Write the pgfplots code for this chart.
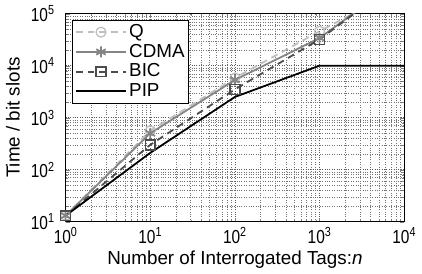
\documentclass[border=0pt]{standalone}
\usepackage{pgfplots}
\pgfplotsset{compat=1.18}
\usepackage{fontspec}
\setmainfont{Liberation Sans}
\newfontfamily\ticfont[FakeStretch=0.82]{Liberation Sans}
\definecolor{cQ}{gray}{0.75}
\definecolor{cC}{gray}{0.52}
\definecolor{cB}{gray}{0.30}
\begin{document}
\fontsize{18}{22}\selectfont
\begin{tikzpicture}
\begin{axis}[
  scale only axis, width=342pt, height=210pt,
  xmode=log, ymode=log,
  xmin=1, xmax=10000, ymin=10, ymax=100000,
  xtick={1,10,100,1000,10000},
  xticklabels={10\textsuperscript{0},10\textsuperscript{1},10\textsuperscript{2},10\textsuperscript{3},10\textsuperscript{4}},
  ytick={10,100,1000,10000,100000},
  yticklabels={10\textsuperscript{1},10\textsuperscript{2},10\textsuperscript{3},10\textsuperscript{4},10\textsuperscript{5}},
  tick label style={font=\ticfont\fontsize{19}{22}\selectfont},
  yticklabel style={xshift=-5pt},
  label style={font=\fontsize{19}{22}\selectfont},
  xlabel={Number of Interrogated Tags:\textit{n}},
  ylabel={Time / bit slots},
  xlabel style={yshift=5pt},
  ylabel style={yshift=-1pt},
  grid=both,
  major grid style={dotted, black!65},
  minor grid style={dotted, black!55},
  tick align=inside,
  major tick length=4pt, minor tick length=2pt,
  axis line style={line width=1pt},
  legend style={font=\fontsize{19}{23}\selectfont, draw=black, line width=0.8pt, inner sep=2pt, row sep=0pt, at={(0.02,0.97)}, anchor=north west},
  legend cell align=left,
  legend image code/.code={\draw[#1] (0cm,0cm) -- (1.8cm,0cm); \draw[#1, solid] plot coordinates {(0.9cm,0cm)};},
]
\addplot[cQ, line width=1.8pt, dash pattern=on 7pt off 5pt, mark=o, mark size=5pt, mark options={solid, fill=none, line width=1.3pt}]
  coordinates {(1,13) (10,560) (100,5800) (1000,46000) (10000,330000)};
\addlegendentry{Q}
\addplot[cC, line width=1.8pt, mark=asterisk, mark size=5.5pt, mark options={solid, line width=1.8pt}]
  coordinates {(1,13) (10,500) (100,5300) (1000,34000) (10000,520000)};
\addlegendentry{CDMA}
\addplot[cB, line width=1.8pt, dash pattern=on 7pt off 5pt, mark=square, mark size=5pt, mark options={solid, fill=none, line width=1.6pt}]
  coordinates {(1,13) (10,300) (100,3500) (1000,32000) (10000,520000)};
\addlegendentry{BIC}
\addplot[black, line width=1.8pt]
  coordinates {(1,13) (10,210) (100,2500) (1000,10000) (10000,10000)};
\addlegendentry{PIP}
\end{axis}
\end{tikzpicture}
\end{document}
